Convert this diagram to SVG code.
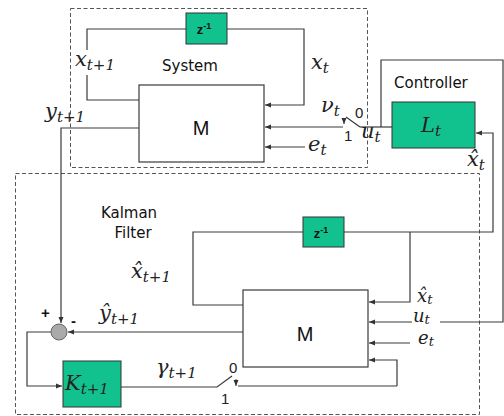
<svg xmlns="http://www.w3.org/2000/svg" width="504" height="416" viewBox="0 0 504 416">
<style>
.ln{fill:none;stroke:#3a3a3a;stroke-width:1.2}
.ar{fill:none;stroke:#3a3a3a;stroke-width:1.2;marker-end:url(#ah)}
.dash{fill:none;stroke:#555;stroke-width:1;stroke-dasharray:4,2.5}
.box{fill:#fff;stroke:#3a3a3a;stroke-width:1.2}
.gbox{fill:#12c28e;stroke:#333;stroke-width:1}
.m{font-family:"DejaVu Serif","Liberation Serif",serif;font-style:italic;font-size:21px;fill:#222}
.s{font-size:15px}
.st{font-family:"DejaVu Serif","Liberation Serif",serif;font-style:italic;font-size:18px;fill:#222}
.ss{font-size:13px}
.lab{font-family:"DejaVu Sans","Liberation Sans",sans-serif;font-size:15px;fill:#111}
.mb{font-family:"Liberation Sans",Arial,sans-serif;font-size:20px;fill:#111;text-anchor:middle}
.z{font-family:"Liberation Sans",Arial,sans-serif;font-size:13px;font-weight:bold;fill:#111;text-anchor:middle}
.sw{font-family:"Liberation Sans",Arial,sans-serif;font-size:15px;fill:#222}
</style>
<defs>
<marker id="ah" markerWidth="7" markerHeight="6" refX="6" refY="3" orient="auto" markerUnits="userSpaceOnUse">
<path d="M0,0.5 L6,3 L0,5.5 Z" fill="#333"/>
</marker>
</defs>

<rect class="dash" x="70.5" y="8.5" width="297" height="159"/>
<rect class="dash" x="15.5" y="173.5" width="464" height="241"/>

<g id="connectors">
<path class="ar" d="M227,29 H304 V105 H265"/>
<path class="ln" d="M186,29 H87 V50"/>
<path class="ln" d="M87,75 V100 H139"/>
<path class="ar" d="M305,147 H265"/>
<path class="ar" d="M343,127 H265"/>
<path class="ar" d="M139,128 H61 V323"/>
<path class="ln" d="M360,127 L346,117"/>
<path class="ln" d="M360,127 H392"/>
<path class="ln" d="M381,127 V60 H503 V322 H440"/>
<path class="ar" d="M412,322 H369"/>
<path class="ar" d="M343,232 H493 V133 H476"/>
<path class="ar" d="M410,232 V302 H369"/>
<path class="ln" d="M303,232 H193 V305 H243"/>
<path class="ar" d="M410,343 H369"/>
<path class="ar" d="M243,332 H68"/>
<path class="ar" d="M51,332 H27 V386 H62"/>
<path class="ln" d="M121,387 H217 L232,376"/>
<path class="ar" d="M397,386 V360 H369"/>
<path class="ln" d="M238,386 H397"/>
<path class="ar" d="M344,119 V124" style="stroke-width:1"/>
<path class="ar" d="M236,379 V386" style="stroke-width:1"/>
</g>

<g id="sys-delay">
<rect class="gbox" x="186" y="13" width="41" height="31"/>
<text class="z" x="204" y="34">z<tspan font-size="9" dy="-5">-1</tspan></text>
</g>
<g id="sys-M">
<rect class="box" x="139" y="85" width="125" height="77"/>
<text class="mb" x="201" y="135">M</text>
</g>
<g id="controller">
<rect class="gbox" x="392" y="102" width="83" height="46"/>
<text class="m" x="421" y="132" font-size="22">L<tspan class="s" dy="4">t</tspan></text>
</g>
<g id="kf-delay">
<rect class="gbox" x="303" y="217" width="41" height="30"/>
<text class="z" x="321" y="238">z<tspan font-size="9" dy="-5">-1</tspan></text>
</g>
<g id="kf-M">
<rect class="box" x="243" y="290" width="125" height="77"/>
<text class="mb" x="305" y="341">M</text>
</g>
<g id="sum">
<circle cx="59" cy="332" r="8" fill="#aaa" stroke="#666" stroke-width="1"/>
</g>
<g id="gain">
<rect class="gbox" x="63" y="361" width="58" height="46"/>
<text class="m" x="65" y="390">K<tspan class="s" dy="4">t+1</tspan></text>
</g>

<g id="labels">
<text class="lab" x="162" y="71">System</text>
<text class="lab" x="394" y="88">Controller</text>
<text class="lab" x="129" y="218" text-anchor="middle">Kalman</text>
<text class="lab" x="133" y="238" text-anchor="middle">Filter</text>

<text class="m" x="75" y="66">x<tspan class="s" dy="4">t+1</tspan></text>
<text class="m" x="311" y="69">x<tspan class="s" dy="4">t</tspan></text>
<text class="m" x="45" y="118">y<tspan class="s" dy="4">t+1</tspan></text>
<text class="m" x="321" y="112">ν<tspan class="s" dy="4">t</tspan></text>
<text class="sw" x="355" y="118">0</text>
<text class="sw" x="344" y="141">1</text>
<text class="m" x="361" y="138">u<tspan class="s" dy="4">t</tspan></text>
<text class="m" x="308" y="151">e<tspan class="s" dy="4">t</tspan></text>
<text class="m" x="467" y="166">x̂<tspan class="s" dy="4">t</tspan></text>

<text class="m" x="131" y="278">x̂<tspan class="s" dy="4">t+1</tspan></text>
<text class="m" x="99" y="320">ŷ<tspan class="s" dy="4">t+1</tspan></text>
<text x="41" y="318" font-family="Liberation Sans,Arial,sans-serif" font-size="15" font-weight="bold" fill="#111">+</text>
<text x="71" y="326" font-family="Liberation Sans,Arial,sans-serif" font-size="15" font-weight="bold" fill="#111">-</text>
<text class="m" x="156" y="374">γ<tspan class="s" dy="4">t+1</tspan></text>
<text class="sw" x="229" y="373">0</text>
<text class="sw" x="221" y="404">1</text>
<text class="st" x="417" y="302">x̂<tspan class="ss" dy="2">t</tspan></text>
<text class="st" x="413" y="322">u<tspan class="ss" dy="2">t</tspan></text>
<text class="st" x="418" y="344">e<tspan class="ss" dy="2">t</tspan></text>
</g>
</svg>
